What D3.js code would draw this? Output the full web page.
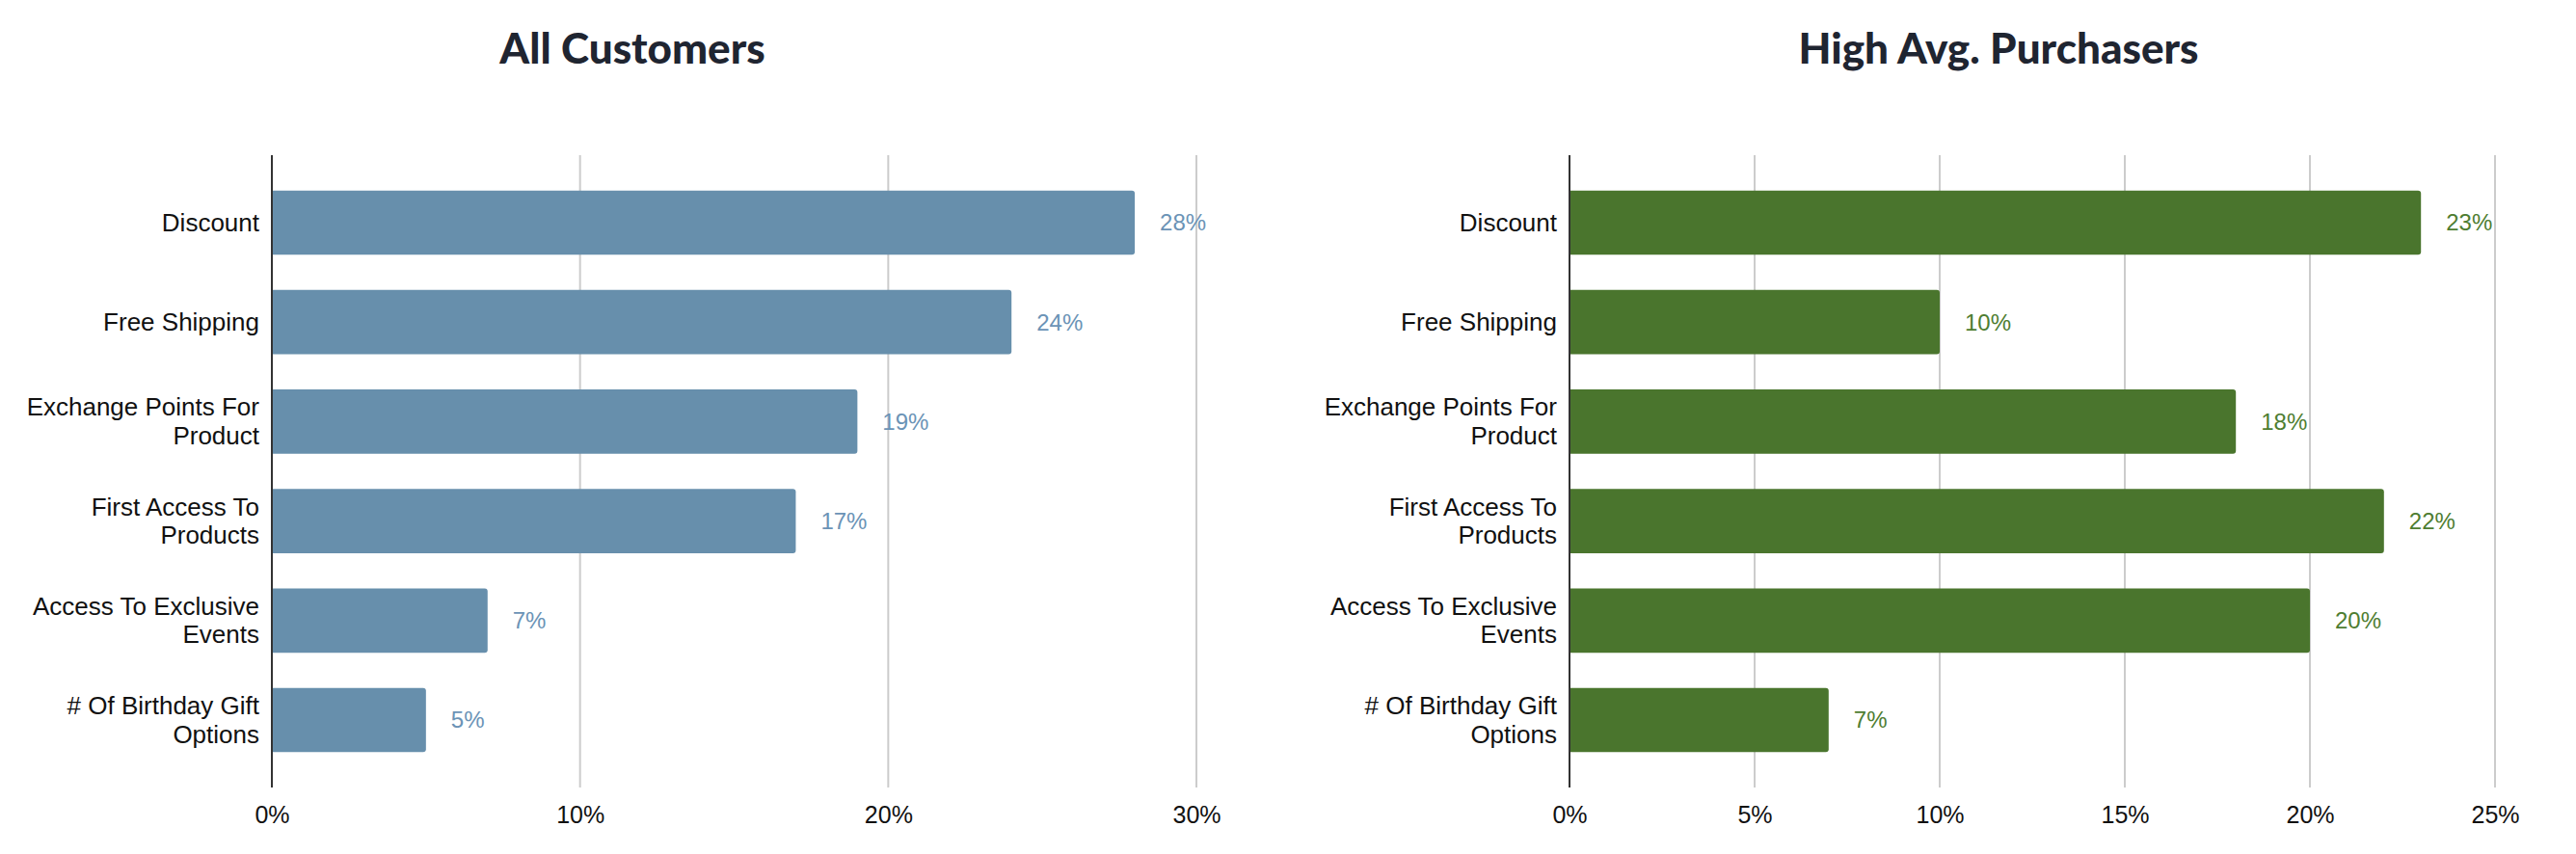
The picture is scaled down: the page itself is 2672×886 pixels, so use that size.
<!DOCTYPE html>
<html>
<head>
<meta charset="utf-8">
<script src="https://cdn.jsdelivr.net/npm/d3@7"></script>
<style>
  html, body { margin: 0; padding: 0; background: #ffffff; }
  svg { display: block; }
</style>
</head>
<body>
<svg id="chart" width="2672" height="886"></svg>
<script>
// ---- data ----
const categories = [
  ["Discount"],
  ["Free Shipping"],
  ["Exchange Points For", "Product"],
  ["First Access To", "Products"],
  ["Access To Exclusive", "Events"],
  ["# Of Birthday Gift", "Options"]
];
const allCustomers = [28, 24, 19, 17, 7, 5];
const highAvgPurchasers = [23, 10, 18, 22, 20, 7];
const leftTicks = [0, 10, 20, 30];
const rightTicks = [0, 5, 10, 15, 20, 25];
const titles = ["All Customers", "High Avg. Purchasers"];

// ---- layout ----
const svg = d3.select("#chart");
const panels = [
  { title: titles[0], values: allCustomers, ticks: leftTicks, max: 30,
    x0: 282, x1: 1241, titleX: 656, color: "#678fac", labelColor: "#6b93b6" },
  { title: titles[1], values: highAvgPurchasers, ticks: rightTicks, max: 25,
    x0: 1628, x1: 2588, titleX: 2073, color: "#4a752d", labelColor: "#4e7d31" }
];
const yTop = 161, yBottom = 817;

panels.forEach(p => {
  const g = svg.append("g");
  const x = d3.scaleLinear().domain([0, p.max]).range([p.x0, p.x1]);
  const idx = d3.range(categories.length);
  const y = d3.scaleBand().domain(idx).range([yTop, yBottom]).padding(0.355);

  // title
  g.append("text")
    .attr("x", p.titleX).attr("y", 66)
    .attr("text-anchor", "middle")
    .attr("font-family", "Lato, sans-serif")
    .attr("font-weight", 900)
    .attr("font-size", 44)
    .attr("fill", "#1f2531")
    .text(p.title);

  // gridlines
  g.selectAll("line.grid").data(p.ticks.filter(t => t > 0)).enter()
    .append("line")
    .attr("x1", d => x(d)).attr("x2", d => x(d))
    .attr("y1", yTop).attr("y2", yBottom)
    .attr("stroke", "#cccccc").attr("stroke-width", 2);

  // x axis tick labels
  const xAxis = d3.axisBottom(x).tickValues(p.ticks).tickFormat(d => d + "%").tickSize(0).tickPadding(0);
  const ax = g.append("g").attr("transform", `translate(0, ${yBottom})`).call(xAxis);
  ax.select(".domain").remove();
  ax.selectAll("text")
    .attr("y", 28)
    .attr("dy", "0.35em")
    .attr("font-family", "'Liberation Sans', Arial, sans-serif")
    .attr("font-size", 25)
    .attr("fill", "#111111");

  // bars with rounded right end
  const r = 3;
  g.selectAll("path.bar").data(p.values).enter()
    .append("path")
    .attr("d", (d, i) => {
      const xa = x(0), xb = x(d), ya = y(i), h = y.bandwidth();
      return `M${xa},${ya} H${xb - r} Q${xb},${ya} ${xb},${ya + r} V${ya + h - r} Q${xb},${ya + h} ${xb - r},${ya + h} H${xa} Z`;
    })
    .attr("fill", p.color);

  // value labels
  g.selectAll("text.val").data(p.values).enter()
    .append("text")
    .attr("x", d => x(d) + 26)
    .attr("y", (d, i) => y(i) + y.bandwidth() / 2)
    .attr("dy", "0.35em")
    .attr("font-family", "'Liberation Sans', Arial, sans-serif")
    .attr("font-size", 24)
    .attr("fill", p.labelColor)
    .text(d => d + "%");

  // category labels
  const lab = g.selectAll("text.cat").data(categories).enter()
    .append("text")
    .attr("text-anchor", "end")
    .attr("font-family", "'Liberation Sans', Arial, sans-serif")
    .attr("font-size", 26)
    .attr("fill", "#111111");
  lab.each(function(lines, i) {
    const cy = y(i) + y.bandwidth() / 2;
    const t = d3.select(this);
    lines.forEach((ln, k) => {
      const off = lines.length === 1 ? 0 : (k === 0 ? -15 : 14.5);
      t.append("tspan")
        .attr("x", x(0) - 13)
        .attr("y", cy + off)
        .attr("dy", "0.35em")
        .text(ln);
    });
  });

  // left axis line
  g.append("line")
    .attr("x1", x(0)).attr("x2", x(0))
    .attr("y1", yTop).attr("y2", yBottom)
    .attr("stroke", "#333333").attr("stroke-width", 2);
});
</script>
</body>
</html>
